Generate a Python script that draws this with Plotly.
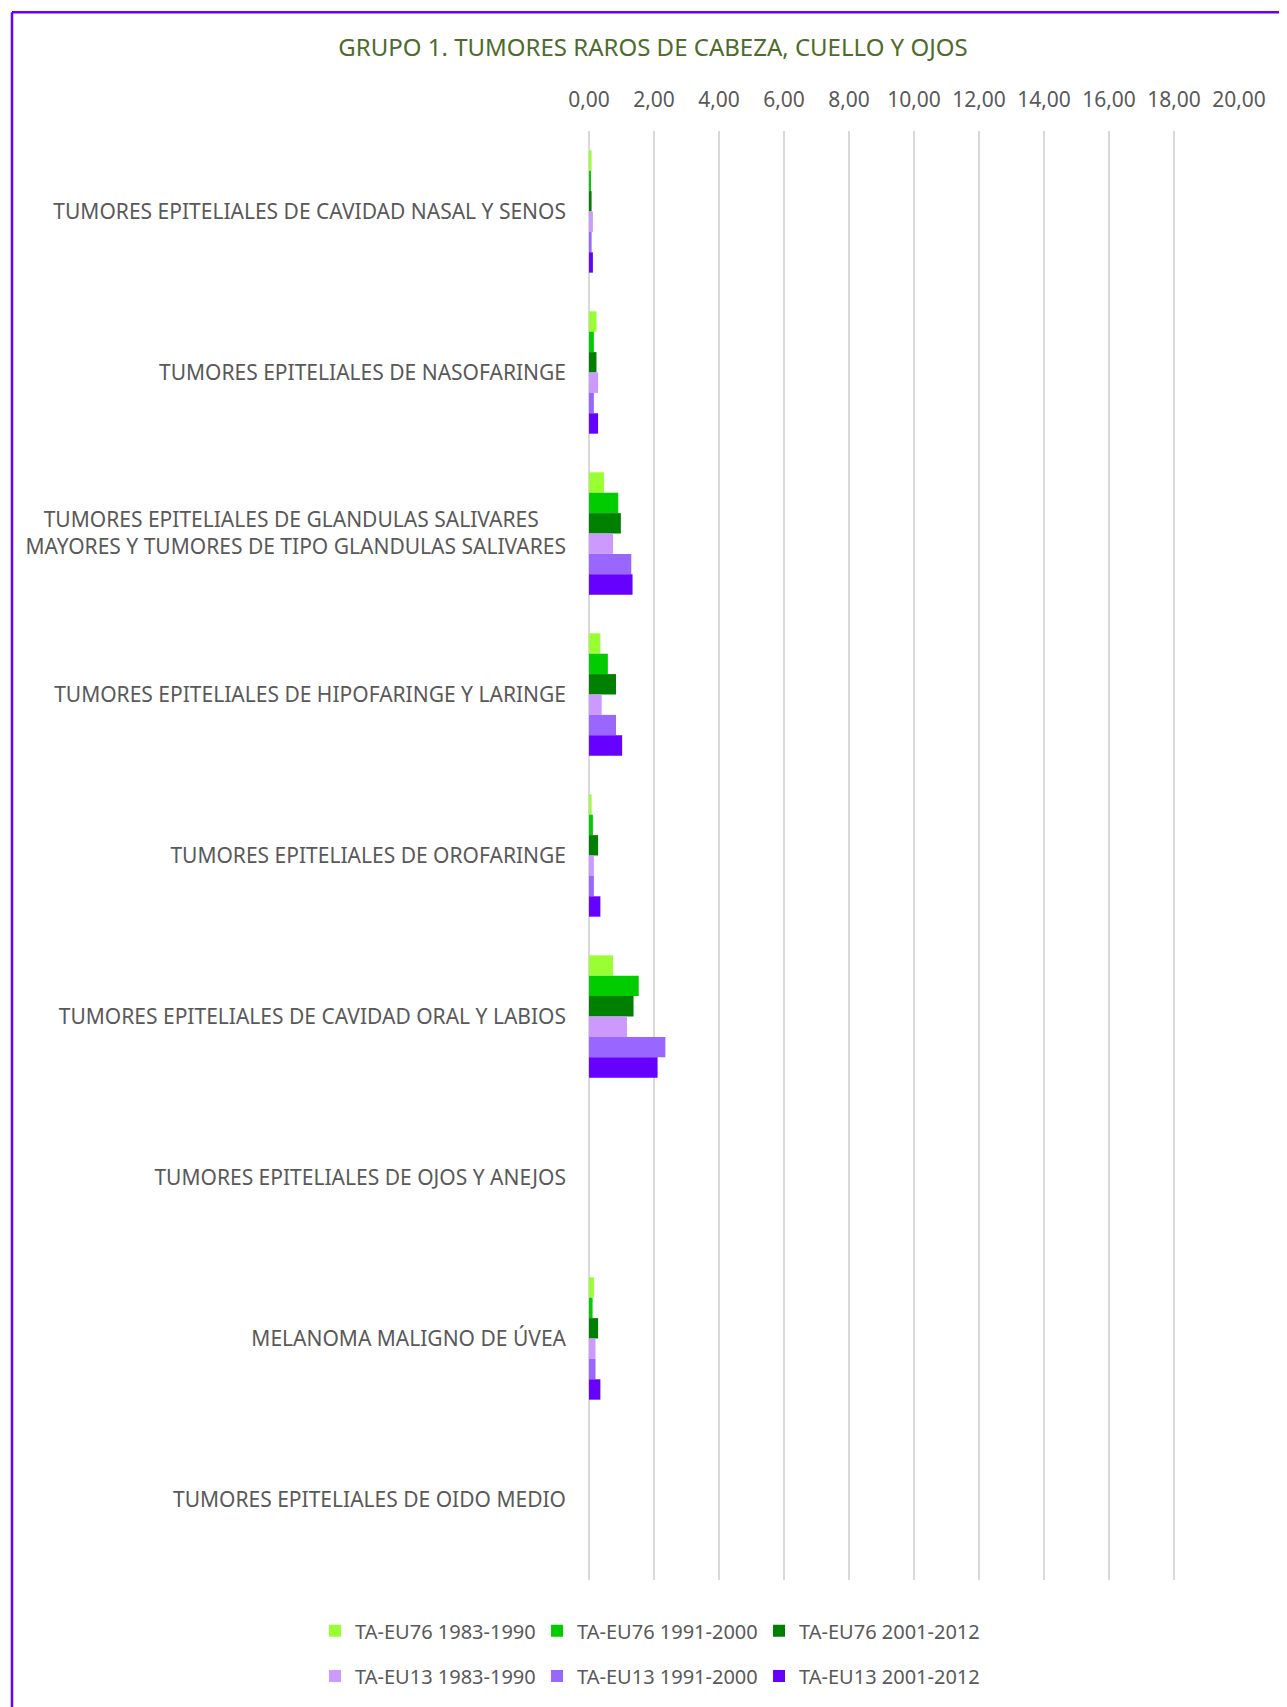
import plotly.graph_objects as go

categories = [
    "TUMORES EPITELIALES DE CAVIDAD NASAL Y SENOS",
    "TUMORES EPITELIALES DE NASOFARINGE",
    "TUMORES EPITELIALES DE GLANDULAS SALIVARES\u00a0\u00a0\u00a0\u00a0\u00a0<br>MAYORES Y TUMORES DE TIPO GLANDULAS SALIVARES",
    "TUMORES EPITELIALES DE HIPOFARINGE Y LARINGE",
    "TUMORES EPITELIALES DE OROFARINGE",
    "TUMORES EPITELIALES DE CAVIDAD ORAL Y LABIOS",
    "TUMORES EPITELIALES DE OJOS Y ANEJOS",
    "MELANOMA MALIGNO DE ÚVEA",
    "TUMORES EPITELIALES DE OIDO MEDIO",
]

eu76_1983_1990 = [0.08, 0.23, 0.46, 0.35, 0.08, 0.74, None, 0.15, None]
eu76_1991_2000 = [0.04, 0.15, 0.90, 0.58, 0.12, 1.53, None, 0.11, None]
eu76_2001_2012 = [0.08, 0.23, 0.98, 0.83, 0.28, 1.37, None, 0.28, None]
eu13_1983_1990 = [0.12, 0.28, 0.74, 0.39, 0.15, 1.17, None, 0.20, None]
eu13_1991_2000 = [0.08, 0.15, 1.30, 0.83, 0.15, 2.35, None, 0.20, None]
eu13_2001_2012 = [0.12, 0.28, 1.34, 1.02, 0.35, 2.11, None, 0.35, None]

series = [
    ("TA-EU76 1983-1990", eu76_1983_1990, "#99FF33", "legend"),
    ("TA-EU76 1991-2000", eu76_1991_2000, "#00CC00", "legend"),
    ("TA-EU76 2001-2012", eu76_2001_2012, "#008000", "legend"),
    ("TA-EU13 1983-1990", eu13_1983_1990, "#CC99FF", "legend2"),
    ("TA-EU13 1991-2000", eu13_1991_2000, "#9966FF", "legend2"),
    ("TA-EU13 2001-2012", eu13_2001_2012, "#6600FF", "legend2"),
]

FONT = "Noto Sans"
GRAY = "#595959"

fig = go.Figure()
for name, vals, color, leg in series:
    fig.add_trace(go.Bar(
        x=vals, y=categories, orientation="h", name=name,
        marker=dict(color=color, line=dict(width=0)),
        legend=leg,
    ))

legend_style = dict(
    orientation="h", xanchor="left", yanchor="middle",
    font=dict(family=FONT, size=20, color=GRAY),
    itemwidth=30, entrywidth=177, entrywidthmode="pixels",
    bgcolor="rgba(0,0,0,0)",
)

# page body has an 8px margin, so the figure is 8px smaller than the window
fig.update_layout(
    width=1279, height=1699,
    paper_bgcolor="white", plot_bgcolor="white",
    barmode="group", bargap=0.24, bargroupgap=0,
    separators=",.",
    margin=dict(l=581, r=48, t=123, b=125),
    title=dict(
        text="GRUPO 1. TUMORES RAROS DE CABEZA, CUELLO Y OJOS",
        x=645 / 1279, xref="container", xanchor="center",
        y=1 - 40 / 1699, yref="container", yanchor="middle",
        font=dict(family=FONT, size=24, color="#4E6B2C"),
    ),
    xaxis=dict(
        side="top", range=[0, 20], dtick=2, tickformat=".2f",
        showgrid=True, gridcolor="#D9D9D9", gridwidth=2,
        zeroline=True, zerolinecolor="#D9D9D9", zerolinewidth=2,
        tickfont=dict(family=FONT, size=21, color=GRAY),
        ticklabelstandoff=19, fixedrange=True,
    ),
    yaxis=dict(
        autorange="reversed", showgrid=False,
        tickfont=dict(family=FONT, size=21, color=GRAY),
        ticklabelstandoff=22,
    ),
    legend=dict(x=-0.4215, y=-0.0351, **legend_style),
    legend2=dict(x=-0.4215, y=-0.0662, **legend_style),
    shapes=[
        dict(type="line", xref="paper", yref="paper",
             x0=-0.8877, x1=1.08, y0=1.082, y1=1.082,
             line=dict(color="#6600FF", width=2.5)),
        dict(type="line", xref="paper", yref="paper",
             x0=-0.8877, x1=-0.8877, y0=1.082, y1=-0.1,
             line=dict(color="#6600FF", width=2.5)),
    ],
)

fig.write_html("out.html")
